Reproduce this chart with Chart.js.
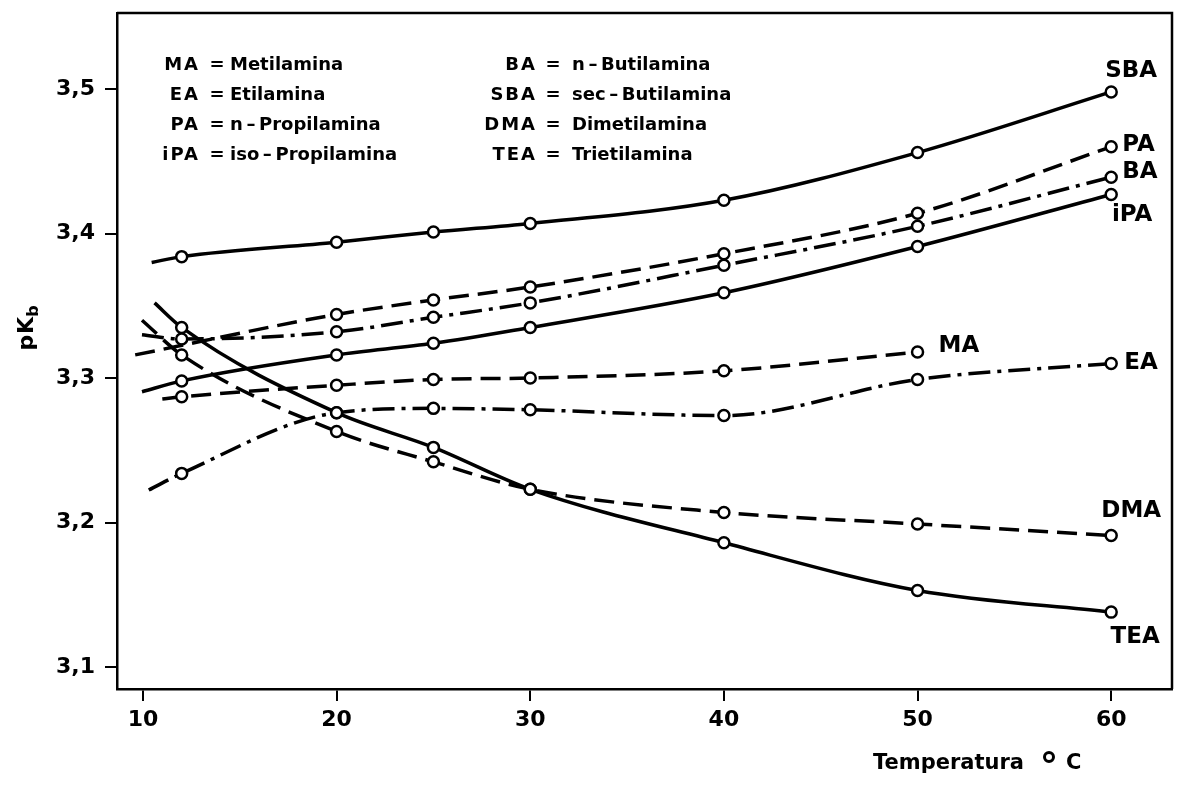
<!DOCTYPE html>
<html>
<head>
<meta charset="utf-8">
<script src="https://cdn.jsdelivr.net/npm/chart.js@4/dist/chart.umd.min.js"></script>
<style>
  html, body { margin: 0; background: #fff; }
  #wrap { width: 1180px; height: 785px; }
</style>
</head>
<body>
<div id="wrap"><canvas id="chart" width="1180" height="785"></canvas></div>
<script>
// pKb of some amines vs. temperature
const codes = ['MA', 'EA', 'PA', 'iPA', 'BA', 'SBA', 'DMA', 'TEA'];
const names = ['Metilamina', 'Etilamina', 'n\u2009\u2013\u2009Propilamina', 'iso\u2009\u2013\u2009Propilamina',
               'n\u2009\u2013\u2009Butilamina', 'sec\u2009\u2013\u2009Butilamina', 'Dimetilamina', 'Trietilamina'];
const temps = [12, 20, 25, 30, 40, 50, 60];

// measured values (null = not measured)
const maVals  = [3.287, 3.295, 3.299, 3.300, 3.305, 3.318, null];
const eaVals  = [3.234, 3.276, 3.279, 3.278, 3.274, 3.299, 3.310];
const paVals  = [null,  3.344, 3.354, 3.363, 3.386, 3.414, 3.460];
const ipaVals = [3.298, 3.316, 3.324, 3.335, 3.359, 3.391, 3.427];
const baVals  = [3.327, 3.332, 3.342, 3.352, 3.378, 3.405, 3.439];
const sbaVals = [3.384, 3.394, 3.401, 3.407, 3.423, 3.456, 3.498];
const dmaVals = [3.316, 3.263, 3.242, 3.223, 3.207, 3.199, 3.191];
const teaVals = [3.335, 3.276, 3.252, 3.223, 3.186, 3.153, 3.138];

// where each fitted curve begins on the left (no marker there)
const curveStartT = [11.0, 10.3, 9.6, 9.95, 9.95, 10.45, 9.95, 10.6];
const curveStartV = [3.2855, 3.2225, 3.316, 3.2905, 3.330, 3.380, 3.340, 3.352];

const xTicks = [10, 20, 30, 40, 50, 60];
const yTicks = [3.1, 3.2, 3.3, 3.4, 3.5];

const allVals = [maVals, eaVals, paVals, ipaVals, baVals, sbaVals, dmaVals, teaVals];

const FONT = '"DejaVu Sans", "Liberation Sans", sans-serif';
const SOLID = [];
const DASH = [20, 9];
const DASHDOT = [22, 7, 4, 7];
const dashes = { MA: DASH, EA: DASHDOT, PA: DASH, iPA: SOLID, BA: DASHDOT, SBA: SOLID, DMA: DASH, TEA: SOLID };

// label offset from the last marker of each curve: [dx, dy, align]
const tagOffset = {
  SBA: [20, -21, 'center'], PA: [11, -2, 'left'], BA: [11, -5, 'left'], iPA: [21, 21, 'center'],
  MA: [21, -6, 'left'], EA: [13, -1, 'left'], DMA: [20, -25, 'center'], TEA: [24, 25, 'center']
};

const datasets = codes.map((code, i) => {
  const pts = [{ x: curveStartT[i], y: curveStartV[i] }];
  temps.forEach((t, j) => {
    if (allVals[i][j] !== null) pts.push({ x: t, y: allVals[i][j] });
  });
  return {
    label: code,
    data: pts,
    borderColor: '#000',
    borderWidth: 3.5,
    borderDash: dashes[code],
    borderCapStyle: 'butt',
    fill: false,
    cubicInterpolationMode: 'monotone',
    pointRadius: ctx => ctx.dataIndex === 0 ? 0 : 5.5,
    pointBackgroundColor: '#fff',
    pointBorderColor: '#000',
    pointBorderWidth: 2.5,
    clip: false
  };
});

function spaced(ctx, text, x, y, spacing) {
  ctx.letterSpacing = spacing + 'px';
  ctx.fillText(text, x, y);
  ctx.letterSpacing = '0px';
}

const annotations = {
  id: 'annotations',
  afterDatasetsDraw(chart) {
    const { ctx, chartArea: a, scales } = chart;
    ctx.save();
    // frame top and right
    ctx.strokeStyle = '#000';
    ctx.lineWidth = 2.5;
    ctx.beginPath();
    ctx.moveTo(a.left, a.top);
    ctx.lineTo(a.right, a.top);
    ctx.lineTo(a.right, a.bottom);
    ctx.stroke();

    ctx.fillStyle = '#000';
    ctx.textBaseline = 'middle';

    // key of abbreviations, two columns
    const cols = [[200, 217, 230], [537, 553, 572]];
    const rowY = [65, 95, 125, 155];
    codes.forEach((code, i) => {
      const c = cols[Math.floor(i / 4)];
      const y = rowY[i % 4];
      ctx.font = 'bold 18px ' + FONT;
      ctx.textAlign = 'right';
      spaced(ctx, code, c[0], y, 2);
      ctx.textAlign = 'center';
      ctx.fillText('=', c[1], y);
      ctx.textAlign = 'left';
      ctx.fillText(names[i], c[2], y);
    });

    // curve names next to their last marker
    ctx.font = 'bold 23px ' + FONT;
    chart.data.datasets.forEach(ds => {
      const last = ds.data[ds.data.length - 1];
      const off = tagOffset[ds.label];
      const px = scales.x.getPixelForValue(last.x) + off[0];
      const py = scales.y.getPixelForValue(last.y) + off[1];
      ctx.textAlign = off[2];
      ctx.fillText(ds.label, px, py);
    });

    // x axis title
    ctx.font = 'bold 21px ' + FONT;
    ctx.textAlign = 'left';
    ctx.fillText('Temperatura', 873, 764);
    ctx.fillText('C', 1066, 764);
    // degree ring
    ctx.lineWidth = 3;
    ctx.beginPath();
    ctx.arc(1049, 757, 4.5, 0, Math.PI * 2);
    ctx.stroke();

    // y axis title pK with subscript b
    ctx.translate(27, 328);
    ctx.rotate(-Math.PI / 2);
    ctx.textAlign = 'left';
    ctx.font = 'bold 22px ' + FONT;
    const w = ctx.measureText('pK').width + 1;
    ctx.font = 'bold 16px ' + FONT;
    const wb = ctx.measureText('b').width;
    const x0 = -(w + wb) / 2;
    ctx.font = 'bold 22px ' + FONT;
    spaced(ctx, 'pK', x0, 0, 1);
    ctx.font = 'bold 16px ' + FONT;
    ctx.fillText('b', x0 + w, 7);
    ctx.restore();
  }
};

new Chart(document.getElementById('chart'), {
  type: 'line',
  data: { datasets },
  options: {
    responsive: false,
    animation: false,
    devicePixelRatio: 1,
    layout: { padding: { top: 13, right: 6, left: 0, bottom: 0 } },
    plugins: { legend: { display: false }, tooltip: { enabled: false } },
    scales: {
      x: {
        type: 'linear',
        min: 8.66,
        max: 63.14,
        afterBuildTicks: s => { s.ticks = xTicks.map(v => ({ value: v })); },
        afterFit: s => { s.height = 96; s.paddingLeft = 0; s.paddingRight = 0; },
        grid: { drawOnChartArea: false, drawTicks: true, tickLength: 12, color: '#000', lineWidth: 2 },
        border: { display: true, color: '#000', width: 2.5 },
        ticks: { font: { family: FONT, size: 22, weight: 'bold' }, color: '#000', padding: 6, maxRotation: 0 }
      },
      y: {
        type: 'linear',
        min: 3.0848,
        max: 3.5526,
        afterBuildTicks: s => { s.ticks = yTicks.map(v => ({ value: v })); },
        afterFit: s => { s.width = 117; s.paddingTop = 0; s.paddingBottom = 0; },
        grid: { drawOnChartArea: false, drawTicks: true, tickLength: 12, color: '#000', lineWidth: 2 },
        border: { display: true, color: '#000', width: 2.5 },
        ticks: {
          font: { family: FONT, size: 22, weight: 'bold' }, color: '#000', padding: 10,
          callback: v => v.toFixed(1).replace('.', ',')
        }
      }
    }
  },
  plugins: [annotations]
});
</script>
</body>
</html>
